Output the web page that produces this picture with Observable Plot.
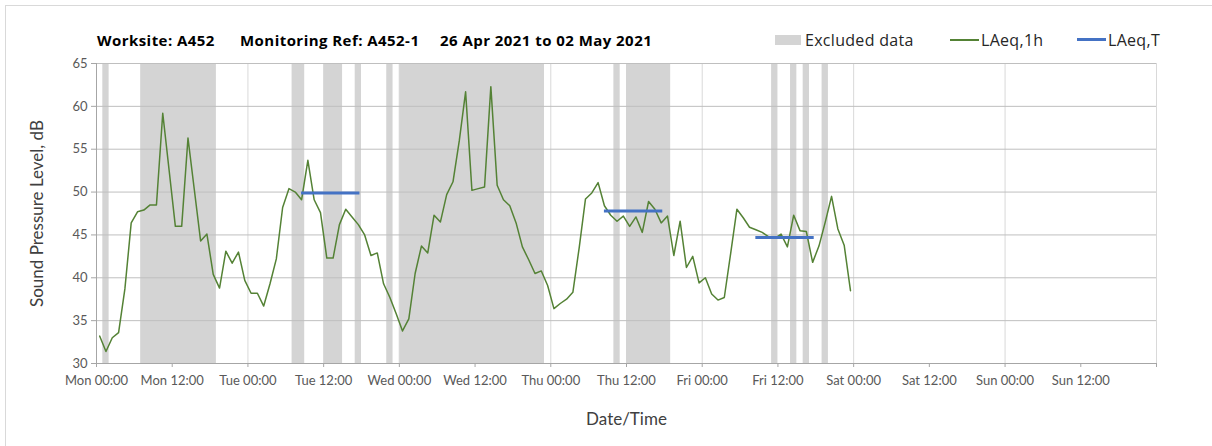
<!DOCTYPE html>
<html>
<head>
<meta charset="utf-8">
<script src="https://cdn.jsdelivr.net/npm/d3@7"></script>
<script src="https://cdn.jsdelivr.net/npm/@observablehq/plot@0.6"></script>
<style>
  body { margin: 0; background: #fff; font-family: Lato, "Open Sans", sans-serif; }
  #wrap { position: relative; width: 1212px; height: 446px; overflow: hidden; background: #fff; }
  #border { position: absolute; left: 5px; top: 5px; width: 1240px; height: 470px; border: 1px solid #d9d9d9; pointer-events: none; z-index: 10; }
  #header { position: relative; height: 50px; }
  .t { position: absolute; top: 29px; font-family: "Open Sans", sans-serif; font-weight: bold; font-size: 15px; letter-spacing: 0.45px; color: #000; white-space: pre; line-height: 22px; }
  .lg { position: absolute; top: 29px; font-family: "Open Sans", sans-serif; font-size: 16px; letter-spacing: 0.3px; color: #262626; white-space: pre; line-height: 22px; }
  .sw { position: absolute; }
  #chart { position: relative; }
  #chart svg [aria-label="y-axis label"], #chart svg [aria-label="x-axis label"] { font-size: 17px; fill: #404040; }
</style>
</head>
<body>
<div id="wrap">
  <div id="border"></div>
  <div id="header">
    <div class="t" id="t1" style="left:97px"></div>
    <div class="t" id="t2" style="left:240px"></div>
    <div class="t" id="t3" style="left:440px"></div>
    <div class="sw" style="left:775px;top:35px;width:26px;height:10px;background:#d4d4d4"></div>
    <div class="lg" id="l1" style="left:805px"></div>
    <div class="sw" style="left:950px;top:39px;width:29px;height:1.6px;background:#548235"></div>
    <div class="lg" id="l2" style="left:981px"></div>
    <div class="sw" style="left:1077px;top:38px;width:29px;height:3px;background:#4472c4"></div>
    <div class="lg" id="l3" style="left:1108px"></div>
  </div>
  <div id="chart"></div>
</div>
<script>
// ---- Text ----
const titleParts = ["Worksite: A452", "Monitoring Ref: A452-1", "26 Apr 2021 to 02 May 2021"];
const legendLabels = ["Excluded data", "LAeq,1h", "LAeq,T"];
const yLabel = "Sound Pressure Level, dB";
const xLabel = "Date/Time";

// ---- Data ----
const weekStart = "2021-04-26T00:00:00Z";
const weekEnd = "2021-05-03T00:00:00Z";
// Hourly LAeq,1h values (dB), one per hour from Mon 00:00
const laeq1h = [
  33.2, 31.4, 33.0, 33.6, 38.7, 46.4, 47.7, 47.9, 48.5, 48.5,
  59.2, 52.6, 46.0, 46.0, 56.3, 50.3, 44.3, 45.1, 40.4, 38.8,
  43.1, 41.7, 43.0, 39.7, 38.2, 38.2, 36.7, 39.3, 42.2, 48.2,
  50.4, 50.0, 49.1, 53.7, 49.1, 47.6, 42.3, 42.3, 46.2, 48.0,
  47.1, 46.2, 45.0, 42.6, 42.9, 39.3, 37.7, 35.8, 33.8, 35.2,
  40.5, 43.7, 42.9, 47.3, 46.5, 49.7, 51.2, 56.0, 61.7, 50.2,
  50.4, 50.6, 62.3, 50.8, 49.1, 48.4, 46.4, 43.6, 42.1, 40.5,
  40.8, 39.1, 36.4, 37.0, 37.5, 38.3, 43.5, 49.2, 49.9, 51.1,
  48.4, 47.3, 46.6, 47.2, 46.0, 47.1, 45.3, 48.9, 48.0, 46.4,
  47.2, 42.6, 46.6, 41.2, 42.5, 39.4, 40.0, 38.1, 37.4, 37.7,
  42.8, 48.0, 47.0, 45.9, 45.6, 45.3, 44.8, 44.6, 45.1, 43.6,
  47.3, 45.5, 45.4, 41.8, 43.7, 46.5, 49.5, 45.7, 43.8, 38.5
];
// Excluded data periods (hours from Mon 00:00)
const excludedFrom = [1, 7, 31, 36, 41, 46, 48, 82, 84, 107, 110, 112, 115];
const excludedTo   = [2, 19, 33, 39, 42, 47, 71, 83, 91, 108, 111, 113, 116];
// LAeq,T daytime periods
const periodFrom  = ["2021-04-27T08:30:00Z", "2021-04-29T08:30:00Z", "2021-04-30T08:30:00Z"];
const periodTo    = ["2021-04-27T17:45:00Z", "2021-04-29T17:45:00Z", "2021-04-30T17:45:00Z"];
const periodLevel = [49.9, 47.8, 44.7];
// Axis ticks
const yTicks = [30, 35, 40, 45, 50, 55, 60, 65];
const xTickStepHours = 12;
const gridStepHours = 24;

// ---- Build ----
document.getElementById("t1").textContent = titleParts[0];
document.getElementById("t2").textContent = titleParts[1];
document.getElementById("t3").textContent = titleParts[2];
document.getElementById("l1").textContent = legendLabels[0];
document.getElementById("l2").textContent = legendLabels[1];
document.getElementById("l3").textContent = legendLabels[2];

const t0 = new Date(weekStart), t7 = new Date(weekEnd);
const addH = (h) => new Date(+t0 + h * 3600e3);
const points = laeq1h.map((v, i) => ({time: addH(i + 0.5), level: v}));
const excluded = excludedFrom.map((f, i) => ({from: addH(f), to: addH(excludedTo[i])}));
const periods = periodLevel.map((v, i) => ({from: new Date(periodFrom[i]), to: new Date(periodTo[i]), level: v}));
const xTicks = d3.utcHour.every(xTickStepHours).range(t0, new Date(+t7 + 1));
const dayTicks = d3.utcHour.every(gridStepHours).range(t0, new Date(+t7 + 1));
const fmt = d3.utcFormat("%a %H:%M");

const chart = Plot.plot({
  width: 1212,
  height: 396,
  marginLeft: 96,
  marginRight: 56,
  marginTop: 13,
  marginBottom: 83,
  style: {fontFamily: "Lato, 'Open Sans', sans-serif", fontSize: "13px", color: "#595959", background: "transparent", overflow: "visible"},
  x: {type: "utc", domain: [t0, t7]},
  y: {domain: [30, 65]},
  marks: [
    Plot.rect(excluded, {x1: "from", x2: "to", fill: "#d4d4d4"}),
    Plot.gridX({ticks: dayTicks, stroke: "#d9d9d9", strokeOpacity: 1}),
    Plot.gridY({ticks: yTicks, stroke: "#bfbfbf", strokeOpacity: 1}),
    Plot.ruleX([t0], {stroke: "#a6a6a6"}),
    Plot.ruleY([30], {stroke: "#a6a6a6"}),
    Plot.axisY({ticks: yTicks, tickSize: 5, tickPadding: 4, stroke: "#a6a6a6", label: yLabel, labelAnchor: "center", labelOffset: 66, labelArrow: "none"}),
    Plot.axisX({ticks: xTicks, tickSize: 4, tickPadding: 8, stroke: "#a6a6a6", tickFormat: (d) => (+d === +t7 ? "" : fmt(d)), label: xLabel, labelAnchor: "center", labelOffset: 61, labelArrow: "none"}),
    Plot.line(points, {x: "time", y: "level", stroke: "#548235", strokeWidth: 1.5}),
    Plot.ruleY(periods, {y: "level", x1: "from", x2: "to", stroke: "#4472c4", strokeWidth: 3})
  ]
});
document.getElementById("chart").appendChild(chart);
</script>
</body>
</html>
